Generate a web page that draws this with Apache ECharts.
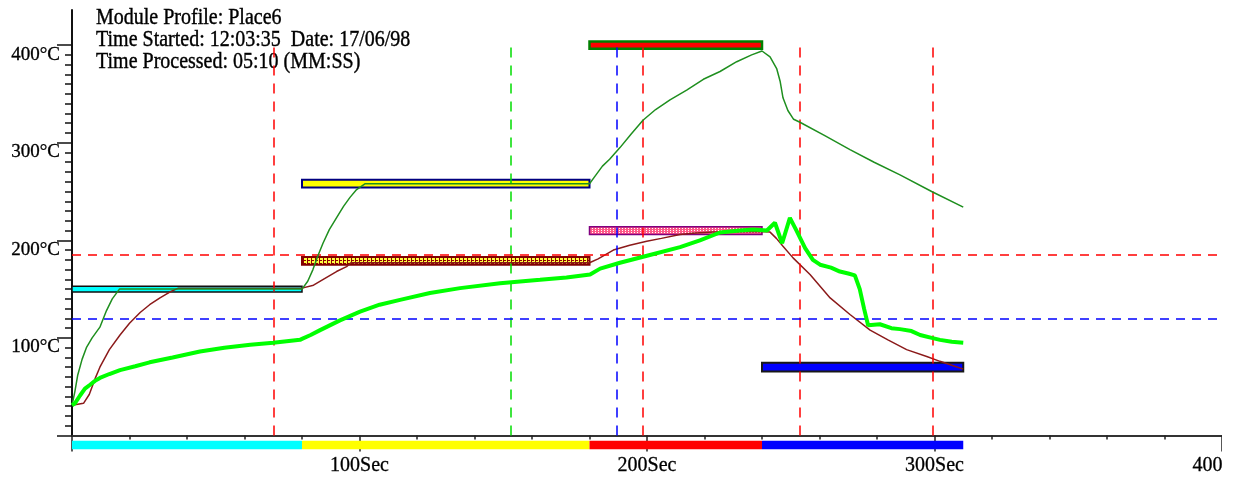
<!DOCTYPE html>
<html>
<head>
<meta charset="utf-8">
<script src="https://cdn.jsdelivr.net/npm/echarts@6/dist/echarts.min.js"></script>
<style>
html,body{margin:0;padding:0;background:#fff;}
#wrap{width:1233px;height:481px;position:relative;background:#fff;}
#chart{width:1222px;height:481px;position:absolute;left:0;top:0;}
</style>
</head>
<body>
<div id="wrap"><div id="chart"></div></div>
<script>
// ---------- DATA ----------
const infoLines = [
  'Module Profile: Place6',
  'Time Started: 12:03:35  Date: 17/06/98',
  'Time Processed: 05:10 (MM:SS)'
];
const xTicks = [0, 100, 200, 300, 400];          // seconds
const yTicks = [0, 100, 200, 300, 400];          // deg C
const yMinorTicks = [
  10,20,30,40,50,60,70,80,90,
  110,120,130,140,150,160,170,180,190,
  210,220,230,240,250,260,270,280,290,
  310,320,330,340,350,360,370,380,390
];

// heater set-point bars: [startSec, endSec, tempC]
const setBars = [
  [0, 80, 150],
  [80, 180, 258],
  [80, 180, 179],
  [180, 240, 400],
  [180, 240, 210],
  [240, 310, 70]
];
// zone bands under the axis: [startSec, endSec]
const zoneBands = [[0, 80], [80, 180], [180, 240], [240, 310]];

// dashed reference lines
const vMarkers = [70, 152.7, 189.5, 198.6, 253, 299.5];
const hMarkers = [185, 120];

// measured curves: [sec, degC]
const airCurve = [
  [0,31],[1,45],[2,62],[3.5,78],[5,90],[7,100],[9.7,111],[12,128],[14,140],[16.5,150],
  [80,150],[82,158],[83.8,170],[85.5,184],[87.3,197],[89.5,211],[92.2,224],[94.5,235],[96.7,244],[99,252],[102,258],
  [180,258],[182,266],[184.5,276],[187,283],[190.6,295],[194.5,309],[198.6,323],[203,334],[208,344],
  [213.8,354],[219.6,365],[225.4,373],[231.2,383],[236.4,390],[240,394],[242.8,388],[245.1,376],
  [246.3,363],[247.3,346],[249,333],[251,324],[253.2,321],[262,307],[270.6,293],[279,280],[288,267],[299,250],[310,234]
];
const boardCurve = [
  [0,31],[4,33],[6,42],[8,58],[9.7,70],[13,88],[16.7,103],[20,115],[23.7,126],[27,134],[30.6,141],[34,147],[37,151],
  [80,151],[84,154],[87.4,160],[92,168],[95.5,173],[97,177],
  [180,177],[183,181],[188.3,190],[194,195],[199.9,199],[205,202],[211.5,206],[217,207.5],[223,208.5],
  [239.3,209],[242.8,208.4],[245,202],[247.3,194],[250.8,182],[256.7,165],[263.7,141],[270.6,124],
  [277.6,108],[283.8,98],[290.3,88],[297.3,81],[301.9,76],[306,72],[310,68]
];
const productCurve = [
  [0,31],[1,33],[2.8,41],[4.5,48],[6.3,52],[8,56],[9.7,59],[13,63],[16.7,67],[22,71],[27,75],[35,80],
  [44.5,86],[53,90],[62,93],[70,95],[79.3,98],[80,99],[83,103],[86.3,108],[93.2,118],[100.2,127],
  [107,134],[114.1,139],[124.5,146],[135,151],[148.9,156],[162.8,159.5],[172,162],[180.2,165],
  [183.7,171],[190.6,177],[201,185],[211.5,193],[218.4,200],[225.4,208],[232.3,210],[237,211],
  [241.7,210],[244.5,218],[247,197],[249.7,223],[252,210],[255,192],[257.7,180],[260.2,175],
  [264,172],[267.1,168],[270,166],[272.3,164],[274,150],[275.5,130],[276.9,113],[281,114],
  [285,110],[288,109],[292,107],[295,103],[299,100],[301.9,98],[306,96],[310,95]
];

// ---------- STYLES ----------
function pattern(bg, fg, w, h, pts) {
  const c = document.createElement('canvas');
  c.width = w; c.height = h;
  const g = c.getContext('2d');
  g.fillStyle = bg; g.fillRect(0, 0, w, h);
  g.fillStyle = fg;
  pts.forEach(p => g.fillRect(p[0], p[1], 1, 1));
  return c;
}
const hatch = pattern('#ffff40', '#900000', 4, 3, [[3,0],[3,1],[3,2],[0,2],[1,2]]);
const dotted = pattern('#ff5a88', '#ffffff', 3, 2, [[1,0]]);
const barStyles = [
  {fill:'#00ffff', border:'#101010', bw:1.5, half:3},
  {fill:'#ffff00', border:'#000080', bw:2, half:4},
  {fill:{image:hatch, repeat:'repeat'}, border:'#800000', bw:2, half:4},
  {fill:'#ff0000', border:'#008000', bw:2.5, half:3.7},
  {fill:{image:dotted, repeat:'repeat'}, border:'#800080', bw:1.5, half:4},
  {fill:'#0000ff', border:'#181818', bw:2, half:4.5}
];
const zoneColors = ['#00ffff', '#ffff00', '#ff0000', '#0000ff'];
const vColors = ['#ff0000', '#00dd00', '#0000ff', '#ff0000', '#ff0000', '#ff0000'];
const hColors = ['#ff0000', '#0000ff'];

const chart = echarts.init(document.getElementById('chart'), null, {renderer:'canvas'});

const markAreaData = setBars.map((b, i) => {
  const s = barStyles[i];
  return [
    {xAxis:b[0], yAxis:b[2]-s.half, itemStyle:{color:s.fill, borderColor:s.border, borderWidth:s.bw}},
    {xAxis:b[1], yAxis:b[2]+s.half}
  ];
});
const markLineData = [];
vMarkers.forEach((t, i) => markLineData.push([
  {coord:[t, 0], lineStyle:{color:vColors[i], type:[10,8], width:1.5}},
  {coord:[t, 400]}
]));
hMarkers.forEach((v, i) => markLineData.push([
  {coord:[0, v], lineStyle:{color:hColors[i], type:[9,7], width:1.5}},
  {coord:[400, v]}
]));

const serif = 'Liberation Serif';
const Y_MAX = 436;

chart.setOption({
  animation:false,
  backgroundColor:'#fff',
  grid:{left:72, right:0, top:10, bottom:45.5, containLabel:false, outerBoundsMode:'none'},
  xAxis:{
    type:'value', min:xTicks[0], max:xTicks[xTicks.length-1], interval:100,
    axisLine:{show:true, onZero:false, lineStyle:{color:'#333', width:2}},
    axisTick:{show:true, length:16, lineStyle:{color:'#222', width:1.5}},
    minorTick:{show:true, splitNumber:5, length:4, lineStyle:{color:'#222', width:1.5}},
    splitLine:{show:false},
    axisLabel:{margin:20, fontFamily:serif, fontSize:20, color:'#000', hideOverlap:false,
      textBorderColor:'#000', textBorderWidth:0.3,
      formatter:v => v === 0 ? '' : v + 'Sec'}
  },
  yAxis:[{
    type:'value', min:yTicks[0], max:Y_MAX, interval:100,
    axisLine:{show:true, onZero:false, lineStyle:{color:'#111', width:2}},
    axisTick:{show:true, length:15, lineStyle:{color:'#111', width:1.5}},
    minorTick:{show:false},
    splitLine:{show:false},
    axisLabel:{margin:12, fontFamily:serif, fontSize:19, color:'#000', verticalAlign:'top',
      textBorderColor:'#000', textBorderWidth:0.3,
      showMaxLabel:false,
      formatter:v => v === 0 ? '' : v + '°C'}
  }, {
    type:'value', min:yTicks[0], max:Y_MAX, position:'left', offset:0,
    axisLine:{show:false}, axisLabel:{show:false}, splitLine:{show:false},
    axisTick:{show:true, length:7, customValues:yMinorTicks, lineStyle:{color:'#111', width:1.5}}
  }],
  graphic: infoLines.map((t, i) => ({
    type:'text', x:96, y:18.5 + i*22, scaleY:1.12,
    style:{text:t, font:'20px "Liberation Serif"', fill:'#000', stroke:'#000', lineWidth:0.35,
      verticalAlign:'middle', align:'left'}
  })),
  series:[
    {type:'line', data:[], z:1, silent:true,
      markLine:{silent:true, symbol:['none','none'], label:{show:false}, data:markLineData, animation:false}},
    {type:'line', data:[], z:2, silent:true,
      markArea:{silent:true, label:{show:false}, data:markAreaData}},
    {type:'custom', z:3, clip:false, silent:true, data:zoneBands,
      renderItem:(params, api) => {
        const p0 = api.coord([api.value(0), 0]);
        const p1 = api.coord([api.value(1), 0]);
        return {type:'rect', shape:{x:p0[0], y:p0[1]+5.2, width:p1[0]-p0[0], height:8.6},
          style:{fill:zoneColors[params.dataIndex]}};
      }},
    {type:'line', name:'board', data:boardCurve, z:4, showSymbol:false, symbol:'none',
      lineStyle:{color:'#8b1a1a', width:1.5}},
    {type:'line', name:'air', data:airCurve, z:5, showSymbol:false, symbol:'none',
      lineStyle:{color:'#1f8f1f', width:1.5}},
    {type:'line', name:'product', data:productCurve, z:6, showSymbol:false, symbol:'none',
      lineStyle:{color:'#00ff00', width:4}}
  ]
});
</script>
</body>
</html>
